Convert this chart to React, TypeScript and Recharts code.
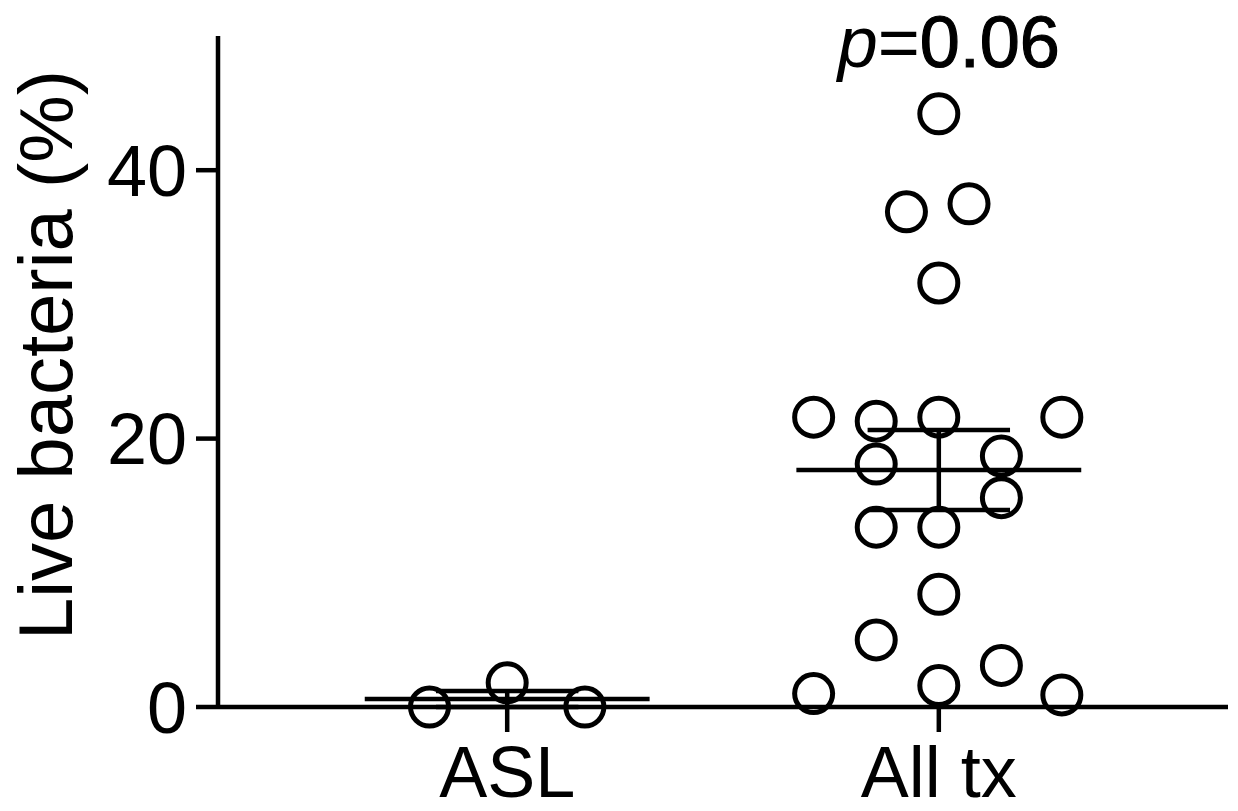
import React from "react";
import {
  Label,
  ReferenceDot,
  ReferenceLine,
  Scatter,
  ScatterChart,
  XAxis,
  YAxis,
} from "recharts";

const groups = ["ASL", "All tx"];
const yTicks = [0, 20, 40];

// values, with the horizontal jitter (in category units)
const aslValues = [0, 1.8, 0];
const aslJitter = [-0.18, 0, 0.18];

const allTxValues = [
  44.2, 36.9, 37.5, 31.6, 21.6, 21.3, 21.6, 21.6, 18.1, 18.7, 15.6, 13.4, 13.4,
  8.4, 5.0, 3.1, 1.0, 1.6, 0.9,
];
const allTxJitter = [
  0, -0.075, 0.07, 0, -0.29, -0.145, 0, 0.285, -0.145, 0.145, 0.145, -0.145, 0,
  0, -0.145, 0.145, -0.29, 0, 0.285,
];

const pValue = "0.06";

const FONT = "'Liberation Sans', Arial, sans-serif";
const STROKE = 4.5;

const meanSem = (vals: number[]) => {
  const n = vals.length;
  const mean = vals.reduce((a, b) => a + b, 0) / n;
  const sd = Math.sqrt(
    vals.reduce((a, b) => a + (b - mean) ** 2, 0) / (n - 1)
  );
  return { mean, sem: sd / Math.sqrt(n) };
};

const toPoints = (vals: number[], jitter: number[], groupIdx: number) =>
  vals.map((v, i) => ({ x: groupIdx + 1 + jitter[i], y: v }));

const series = [
  { values: aslValues, points: toPoints(aslValues, aslJitter, 0) },
  { values: allTxValues, points: toPoints(allTxValues, allTxJitter, 1) },
];

const OpenCircle = (props: any) => {
  const { cx, cy } = props;
  if (cx == null || cy == null) return null;
  return (
    <circle cx={cx} cy={cy} r={19} fill="none" stroke="#000" strokeWidth={5} />
  );
};

export default function App() {
  return (
    <div style={{ width: 1238, height: 811, background: "#fff" }}>
      <style>{`body{margin:0}`}</style>
      <ScatterChart
        width={1238}
        height={811}
        margin={{ top: 36, right: 10, bottom: 0, left: 0 }}
      >
        <XAxis
          type="number"
          dataKey="x"
          domain={[0.33, 2.67]}
          ticks={[1, 2]}
          tickFormatter={(v: number) => groups[v - 1]}
          allowDataOverflow
          height={104}
          tickSize={25}
          tickMargin={14}
          axisLine={{ stroke: "#000", strokeWidth: STROKE }}
          tickLine={{ stroke: "#000", strokeWidth: STROKE }}
          tick={{ fill: "#000", fontSize: 72, fontFamily: FONT }}
        />
        <YAxis
          type="number"
          dataKey="y"
          domain={[0, 50]}
          ticks={yTicks}
          width={218}
          tickSize={22}
          tickMargin={9}
          axisLine={{ stroke: "#000", strokeWidth: STROKE }}
          tickLine={{ stroke: "#000", strokeWidth: STROKE }}
          tick={{ fill: "#000", fontSize: 72, fontFamily: FONT }}
        >
          <Label
            content={() => (
              <text
                transform="rotate(-90)"
                x={-355}
                y={72}
                textAnchor="middle"
                fontSize={76}
                fontFamily={FONT}
                fill="#000"
              >
                Live bacteria (%)
              </text>
            )}
          />
        </YAxis>
        {series.map((s, gi) => (
          <Scatter
            key={groups[gi]}
            data={s.points}
            shape={<OpenCircle />}
            isAnimationActive={false}
          />
        ))}
        {series.map((s, gi) => {
          const { mean, sem } = meanSem(s.values);
          const c = gi + 1;
          const line = { stroke: "#000", strokeWidth: STROKE };
          return (
            <React.Fragment key={`stats-${gi}`}>
              <ReferenceLine
                segment={[
                  { x: c - 0.33, y: mean },
                  { x: c + 0.33, y: mean },
                ]}
                {...line}
              />
              <ReferenceLine
                segment={[
                  { x: c - 0.165, y: mean + sem },
                  { x: c + 0.165, y: mean + sem },
                ]}
                {...line}
              />
              <ReferenceLine
                segment={[
                  { x: c - 0.165, y: Math.max(0, mean - sem) },
                  { x: c + 0.165, y: Math.max(0, mean - sem) },
                ]}
                {...line}
              />
              <ReferenceLine
                segment={[
                  { x: c, y: Math.max(0, mean - sem) },
                  { x: c, y: mean + sem },
                ]}
                {...line}
              />
            </React.Fragment>
          );
        })}
        <ReferenceDot
          x={2}
          y={50}
          r={0}
          fill="none"
          stroke="none"
          label={{
            content: (props: any) => {
              const vb = props.viewBox || {};
              const cx = (vb.x ?? 0) + (vb.width ?? 0) / 2;
              const cy = (vb.y ?? 0) + (vb.height ?? 0) / 2;
              return (
                <text
                  x={cx + 10}
                  y={cy + 31}
                  textAnchor="middle"
                  fontSize={72}
                  fontFamily={FONT}
                  fill="#000"
                >
                  <tspan fontStyle="italic">p</tspan>
                  <tspan>=</tspan>
                  <tspan stroke="#000" strokeWidth={1.2}>{pValue}</tspan>
                </text>
              );
            },
          }}
        />
      </ScatterChart>
    </div>
  );
}
